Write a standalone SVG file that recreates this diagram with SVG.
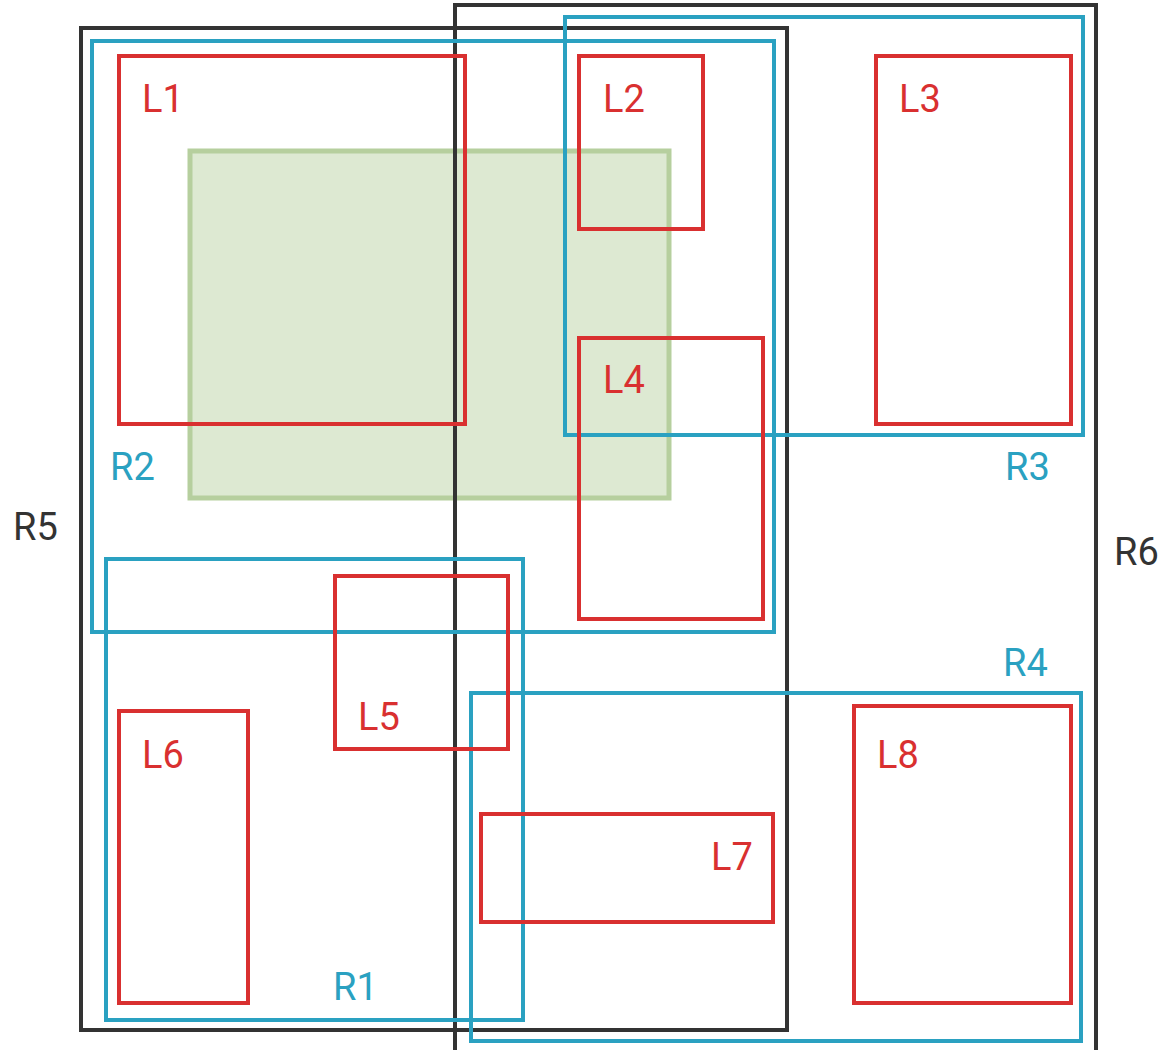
<svg xmlns="http://www.w3.org/2000/svg" width="1170" height="1050" viewBox="0 0 1170 1050">
<style>
.bg{fill:#ffffff}
.box{fill:none;stroke-width:4}
.lf{stroke:#d93030}
.rg{stroke:#2aa1c1}
.rt{stroke:#333333}
.q{fill:#dde9d2;stroke:#b6cf9e;stroke-width:5}
text{font-family:Roboto,"Liberation Sans",sans-serif;font-size:38px}
.tl{fill:#d93030}
.tr{fill:#2aa1c1}
.tk{fill:#333333}
</style>
<rect class="bg" x="0" y="0" width="1170" height="1050"/>
<g id="query"><rect class="q" x="190" y="151" width="479" height="347"/></g>
<g id="R5"><rect class="box rt" x="81" y="28" width="706" height="1002"/><text class="tk" x="13" y="540">R5</text></g>
<g id="R6"><rect class="box rt" x="455" y="5" width="641" height="1060"/><text class="tk" x="1114" y="565">R6</text></g>
<g id="R2"><rect class="box rg" x="92" y="41" width="682" height="591"/><text class="tr" x="110" y="480">R2</text></g>
<g id="R3"><rect class="box rg" x="565" y="17" width="518" height="418"/><text class="tr" x="1005" y="480">R3</text></g>
<g id="R1"><rect class="box rg" x="106" y="559" width="417" height="461"/><text class="tr" x="333" y="1000">R1</text></g>
<g id="R4"><rect class="box rg" x="471" y="693" width="610" height="348"/><text class="tr" x="1003" y="676">R4</text></g>
<g id="L1"><rect class="box lf" x="119" y="56" width="346" height="368"/><text class="tl" x="142" y="112">L1</text></g>
<g id="L2"><rect class="box lf" x="579" y="56" width="124" height="173"/><text class="tl" x="603" y="112">L2</text></g>
<g id="L3"><rect class="box lf" x="876" y="56" width="195" height="368"/><text class="tl" x="899" y="112">L3</text></g>
<g id="L4"><rect class="box lf" x="579" y="338" width="184" height="281"/><text class="tl" x="603" y="393">L4</text></g>
<g id="L5"><rect class="box lf" x="335" y="576" width="173" height="173"/><text class="tl" x="358" y="730">L5</text></g>
<g id="L6"><rect class="box lf" x="119" y="711" width="129" height="292"/><text class="tl" x="142" y="768">L6</text></g>
<g id="L7"><rect class="box lf" x="481" y="814" width="292" height="108"/><text class="tl" x="711" y="870">L7</text></g>
<g id="L8"><rect class="box lf" x="854" y="706" width="217" height="297"/><text class="tl" x="877" y="768">L8</text></g>
<g id="connectors"></g>
</svg>
